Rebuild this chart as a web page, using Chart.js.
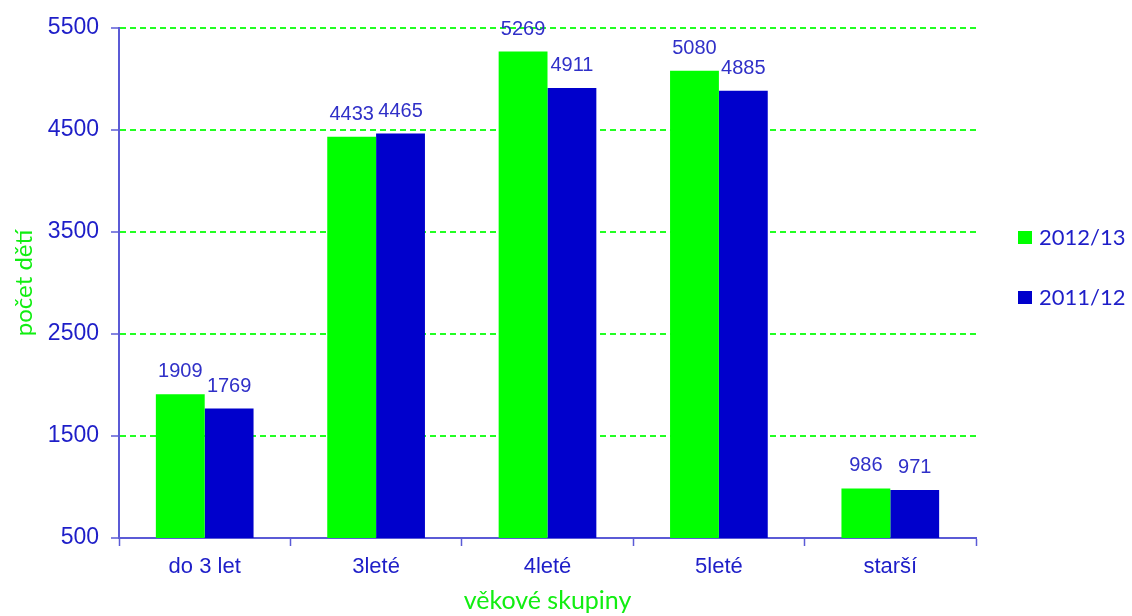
<!DOCTYPE html>
<html>
<head>
<meta charset="utf-8">
<script src="https://cdn.jsdelivr.net/npm/chart.js@4"></script>
<style>
  html, body { margin: 0; padding: 0; background: #fff; }
  #wrap { width: 1132px; height: 616px; position: relative; }
</style>
</head>
<body>
<div id="wrap"><canvas id="chart"></canvas></div>
<script>
const categories = ["do 3 let", "3leté", "4leté", "5leté", "starší"];
const seriesNames = ["2012/13", "2011/12"];
const values1213 = [1909, 4433, 5269, 5080, 986];
const values1112 = [1769, 4465, 4911, 4885, 971];
const yTicks = [500, 1500, 2500, 3500, 4500, 5500];

const green = "#00FF00";
const blue = "#0000CC";
const axisBlue = "#5B5BD6";
const textBlue = "#1E1EC8";
const titleGreen = "#11EE11";

// value labels above each bar
const barLabels = {
  id: "barLabels",
  afterDatasetsDraw(chart) {
    const ctx = chart.ctx;
    ctx.save();
    ctx.font = "20px 'Liberation Sans', Arial, sans-serif";
    ctx.fillStyle = "#3030C8";
    ctx.textAlign = "center";
    ctx.textBaseline = "alphabetic";
    chart.data.datasets.forEach((ds, i) => {
      chart.getDatasetMeta(i).data.forEach((bar, j) => {
        ctx.fillText(ds.data[j], bar.x, bar.y - 17);
      });
    });
    ctx.restore();
  },
};

// legend on the right
const sideLegend = {
  id: "sideLegend",
  afterDraw(chart) {
    const ctx = chart.ctx;
    const colors = [green, blue];
    ctx.save();
    ctx.font = "22px Lato, 'Open Sans', sans-serif";
    ctx.textBaseline = "middle";
    seriesNames.forEach((name, i) => {
      const y = 238 + i * 60;
      ctx.fillStyle = colors[i];
      ctx.fillRect(1018, y - 7, 14, 13);
      ctx.fillStyle = textBlue;
      ctx.fillText(name, 1039, y);
    });
    ctx.restore();
  },
};

new Chart(document.getElementById("chart"), {
  type: "bar",
  data: {
    labels: categories,
    datasets: [
      { label: seriesNames[0], data: values1213, backgroundColor: green },
      { label: seriesNames[1], data: values1112, backgroundColor: blue },
    ],
  },
  options: {
    responsive: true,
    maintainAspectRatio: false,
    animation: false,
    layout: { padding: { left: 0, right: 156, top: 28, bottom: 0 } },
    datasets: { bar: { categoryPercentage: 0.57, barPercentage: 1.0 } },
    plugins: {
      legend: { display: false },
      tooltip: { enabled: false },
    },
    scales: {
      x: {
        afterFit: (scale) => { scale.height = 78; },
        grid: {
          drawOnChartArea: false,
          offset: true,
          tickLength: 8,
          tickColor: axisBlue,
          tickWidth: 1.5,
        },
        border: { color: axisBlue, width: 2 },
        ticks: {
          color: textBlue,
          padding: 8,
          font: { family: "'Liberation Sans', Arial, sans-serif", size: 22 },
        },
        title: {
          display: true,
          text: "věkové skupiny",
          color: titleGreen,
          font: { family: "Lato, 'Open Sans', sans-serif", size: 25 },
          padding: 0,
        },
      },
      y: {
        min: yTicks[0],
        max: yTicks[yTicks.length - 1],
        afterFit: (scale) => { scale.width = 119; },
        afterBuildTicks: (scale) => {
          scale.ticks = yTicks.map((v) => ({ value: v }));
        },
        grid: {
          color: "#22FF22",
          lineWidth: 2,
          tickLength: 8,
          tickColor: axisBlue,
          tickWidth: 1.5,
        },
        border: { color: axisBlue, width: 2, dash: [6, 4] },
        ticks: {
          color: textBlue,
          padding: 12,
          callback: (v) => String(v),
          font: { family: "'Liberation Sans', Arial, sans-serif", size: 23 },
        },
        title: {
          display: true,
          text: "počet dětí",
          color: titleGreen,
          font: { family: "Lato, 'Open Sans', sans-serif", size: 24 },
          padding: { top: 10, bottom: 0 },
        },
      },
    },
  },
  plugins: [barLabels, sideLegend],
});
</script>
</body>
</html>
